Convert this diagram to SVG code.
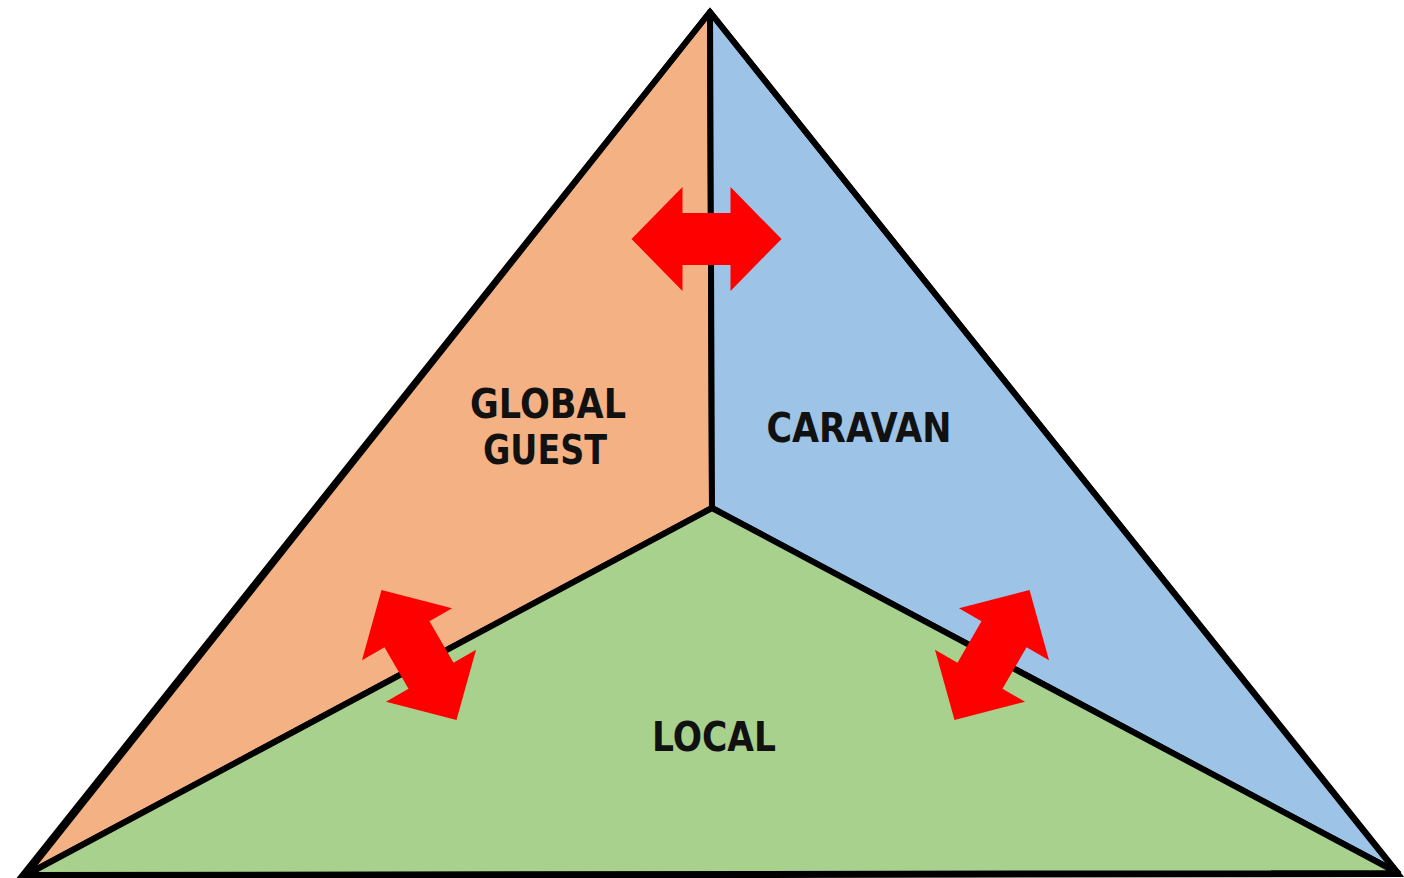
<svg xmlns="http://www.w3.org/2000/svg" width="1404" height="878" viewBox="0 0 1404 878">
<style>
.reg{stroke:#000;stroke-width:6;stroke-linejoin:round}
.lbl{font-family:"DejaVu Sans","Liberation Sans",sans-serif;font-weight:bold;font-size:41px;fill:#111;text-anchor:middle}
.arr{fill:#FF0000}
</style>
<defs>
<polygon id="dbl" points="-75,0 -24,-52 -24,-26 24,-26 24,-52 75,0 24,52 24,26 -24,26 -24,52"/>
</defs>
<rect width="1404" height="878" fill="#fff"/>
<g id="global-guest">
<polygon class="reg" fill="#F4B183" points="710,12 712,508 26,875"/>
<text class="lbl" x="548" y="418" textLength="156" lengthAdjust="spacingAndGlyphs">GLOBAL</text>
<text class="lbl" x="545" y="464" textLength="124" lengthAdjust="spacingAndGlyphs">GUEST</text>
</g>
<g id="caravan">
<polygon class="reg" fill="#9DC3E6" points="710,12 1398,873 712,508"/>
<text class="lbl" x="859" y="442" textLength="185" lengthAdjust="spacingAndGlyphs">CARAVAN</text>
</g>
<g id="local">
<polygon class="reg" fill="#A9D18E" points="712,508 1398,873 26,875"/>
<text class="lbl" x="714" y="751" textLength="124" lengthAdjust="spacingAndGlyphs">LOCAL</text>
</g>
<g id="outline">
<polygon fill="none" stroke="#000" stroke-width="6" stroke-linejoin="miter" points="710,12 1398,874 22,876"/>
</g>
<g id="connectors">
<use href="#dbl" class="arr" transform="translate(706.5,239)"/>
<use href="#dbl" class="arr" transform="translate(419,655) rotate(60)"/>
<use href="#dbl" class="arr" transform="translate(992,655) rotate(-60)"/>
</g>
</svg>
